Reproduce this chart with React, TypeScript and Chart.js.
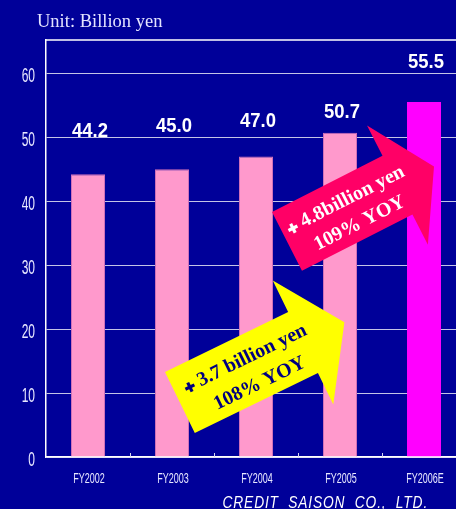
import React, { useEffect, useRef } from 'react';
import { Chart, registerables } from 'chart.js';
Chart.register(...registerables);

const categories = ['FY2002', 'FY2003', 'FY2004', 'FY2005', 'FY2006E'];
const values = [44.2, 45.0, 47.0, 50.7, 55.5];
const valueLabels = ['44.2', '45.0', '47.0', '50.7', '55.5'];
const barColors = ['#FF99CC', '#FF99CC', '#FF99CC', '#FF99CC', '#FF00FF'];
const barBorders = ['#D070B8', '#D070B8', '#D070B8', '#D070B8', '#FF00FF'];
const labelLift = [37, 37, 29.5, 14.5, 34];
const yMin = 0;
const yMax = 65.2;
const yStep = 10;
const titleText = 'Unit: Billion yen';
const footerText = 'CREDIT  SAISON  CO.,  LTD.';
const arrow1Lines = ['3.7 billion yen', '108% YOY'];
const arrow2Lines = ['4.8billion yen', '109% YOY'];

const BG = '#000099';
const SANS = '"Liberation Sans", Arial, sans-serif';
const SERIF = '"Liberation Serif", "Times New Roman", serif';

function scaledText(ctx: CanvasRenderingContext2D, text: string, x: number, y: number, sx: number) {
  ctx.save();
  ctx.translate(x, y);
  ctx.scale(sx, 1);
  ctx.fillText(text, 0, 0);
  ctx.restore();
}

function drawArrow(
  ctx: CanvasRenderingContext2D,
  ox: number, oy: number, angleDeg: number,
  L: number, W: number, E: number, T: number,
  fill: string, textColor: string, lines: string[],
  line1U: number, line1V: number, line2U: number, line2V: number
) {
  ctx.save();
  ctx.translate(ox, oy);
  ctx.rotate((angleDeg * Math.PI) / 180);
  ctx.beginPath();
  ctx.moveTo(0, 0);
  ctx.lineTo(L, 0);
  ctx.lineTo(L, -E);
  ctx.lineTo(L + T, W / 2);
  ctx.lineTo(L, W + E);
  ctx.lineTo(L, W);
  ctx.lineTo(0, W);
  ctx.closePath();
  ctx.fillStyle = fill;
  ctx.fill();

  ctx.fillStyle = textColor;
  ctx.font = 'bold 20px ' + SERIF;
  ctx.textBaseline = 'middle';
  ctx.textAlign = 'left';
  const crossW = 10;
  const gap = 5;
  const t1w = ctx.measureText(lines[0]).width;
  const total = crossW + gap + t1w;
  const sx = line1U - total / 2;
  const cx = sx + crossW / 2;
  const cy = line1V + 1;
  ctx.fillRect(cx - crossW / 2, cy - 1.6, crossW, 3.2);
  ctx.fillRect(cx - 1.6, cy - crossW / 2, 3.2, crossW);
  ctx.fillText(lines[0], sx + crossW + gap, line1V);
  ctx.textAlign = 'center';
  ctx.fillText(lines[1], line2U, line2V);
  ctx.restore();
}

const decor = {
  id: 'decor',
  beforeDraw(chart: any) {
    const { ctx, width, height } = chart;
    ctx.save();
    ctx.fillStyle = BG;
    ctx.fillRect(0, 0, width, height);
    ctx.restore();
  },
  afterDraw(chart: any) {
    const { ctx, chartArea } = chart;
    const x = chart.scales.x;
    const y = chart.scales.y;
    ctx.save();
    // top border
    ctx.strokeStyle = '#FFFFFF';
    ctx.lineWidth = 1.5;
    ctx.beginPath();
    ctx.moveTo(chartArea.left, chartArea.top);
    ctx.lineTo(chartArea.right, chartArea.top);
    ctx.stroke();
    // category boundary ticks
    ctx.lineWidth = 1;
    ctx.strokeStyle = '#D8D8F0';
    for (let i = 0; i < categories.length - 1; i++) {
      const bx = Math.round((x.getPixelForValue(i) + x.getPixelForValue(i + 1)) / 2) + 0.5;
      ctx.beginPath();
      ctx.moveTo(bx, chartArea.bottom);
      ctx.lineTo(bx, chartArea.bottom - 4);
      ctx.stroke();
    }
    // y tick labels (condensed)
    ctx.fillStyle = '#E8E8FF';
    ctx.font = '20px ' + SANS;
    ctx.textAlign = 'right';
    ctx.textBaseline = 'alphabetic';
    y.ticks.forEach((t: any) => {
      const py = y.getPixelForValue(t.value);
      scaledText(ctx, String(t.value), 35, py + 8.5, 0.6);
    });
    // x tick labels (condensed)
    ctx.font = '15px ' + SANS;
    ctx.textAlign = 'center';
    categories.forEach((c, i) => {
      scaledText(ctx, c, x.getPixelForValue(i) + 1, 483.3, 0.6);
    });
    // value labels
    ctx.fillStyle = '#FFFFFF';
    ctx.font = 'bold 21px ' + SANS;
    ctx.textAlign = 'center';
    values.forEach((v, i) => {
      const px = x.getPixelForValue(i);
      const py = y.getPixelForValue(v);
      scaledText(ctx, valueLabels[i], px + 2, py - labelLift[i], 0.88);
    });
    // title
    ctx.fillStyle = '#E4E4FF';
    ctx.font = '18.5px ' + SERIF;
    ctx.textAlign = 'left';
    ctx.fillText(titleText, 37, 26.5);
    // footer
    ctx.fillStyle = '#FFFFFF';
    ctx.font = 'italic 16px ' + SANS;
    (ctx as any).letterSpacing = '1px';
    scaledText(ctx, footerText, 222.5, 508.3, 0.86);
    (ctx as any).letterSpacing = '0px';
    ctx.restore();

    // arrows
    drawArrow(ctx, 165, 372, -26, 137, 68, 35, 46, '#FFFF00', '#000080', arrow1Lines, 78, 23.5, 80, 52);
    drawArrow(ctx, 272, 212, -27, 124, 66, 34, 41, '#FF0066', '#FFFFFF', arrow2Lines, 71, 23, 73, 50);
  },
};

export default function App() {
  const ref = useRef<HTMLCanvasElement>(null);
  useEffect(() => {
    if (!ref.current) return;
    const chart = new Chart(ref.current, {
      type: 'bar',
      data: {
        labels: categories,
        datasets: [
          {
            data: values,
            backgroundColor: barColors,
            borderColor: barBorders,
            borderWidth: 1,
            barPercentage: 0.405,
            categoryPercentage: 1,
          },
        ],
      },
      options: {
        responsive: false,
        animation: false,
        layout: { padding: { left: 0, top: 40, right: 14, bottom: 0 } },
        plugins: { legend: { display: false }, tooltip: { enabled: false } },
        scales: {
          x: {
            grid: { display: false },
            border: { display: true, color: '#FFFFFF', width: 1.5 },
            ticks: { display: false },
            afterFit: (s: any) => { s.height = 52; },
          },
          y: {
            min: yMin,
            max: yMax,
            grid: { color: '#C4C4E6', lineWidth: 1, drawTicks: false },
            border: { display: true, color: '#FFFFFF', width: 1.5 },
            ticks: { display: false, stepSize: yStep, includeBounds: false },
            afterFit: (s: any) => { s.width = 46; },
          },
        },
      },
      plugins: [decor],
    });
    return () => chart.destroy();
  }, []);
  return (
    <>
      <style>{`html,body{margin:0;padding:0;overflow:hidden;background:${BG}}`}</style>
      <div style={{ position: 'absolute', left: 0, top: 0, width: 480, height: 509 }}>
        <canvas ref={ref} width={480} height={509} />
      </div>
    </>
  );
}
